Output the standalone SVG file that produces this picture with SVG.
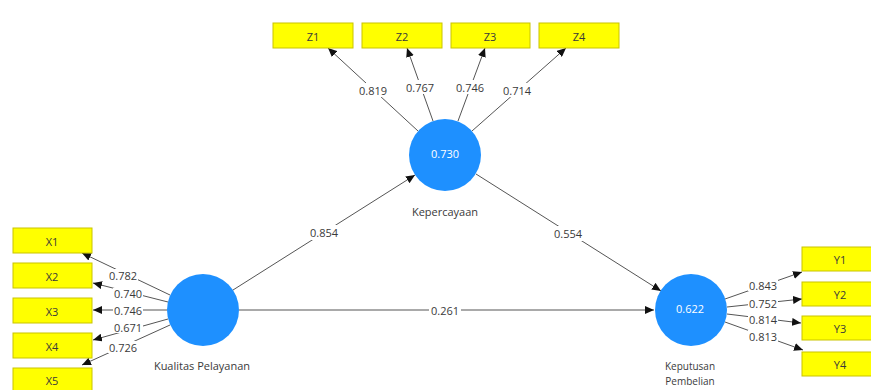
<svg xmlns="http://www.w3.org/2000/svg" width="871" height="390" viewBox="0 0 871 390">
<style>
.bg{fill:#ffffff}
.ind rect{fill:#ffff00;stroke:#c9c400;stroke-width:1}
.t{font-family:"Open Sans","Noto Sans",sans-serif;font-size:11px;fill:#3a3a3a;text-anchor:middle;dominant-baseline:central}
.s{font-size:10px}
.lat circle{fill:#1e90ff}
.wt{font-family:"Open Sans","Noto Sans",sans-serif;font-size:11px;fill:#ffffff;text-anchor:middle;dominant-baseline:central}
.ln{stroke:#555555;stroke-width:1;fill:none;marker-end:url(#ah)}
.lb{fill:#ffffff}
</style>
<defs>
<marker id="ah" markerUnits="userSpaceOnUse" markerWidth="10" markerHeight="8" refX="9" refY="4" orient="auto">
<path d="M0,0 L9,4 L0,8 Z" fill="#111111"/>
</marker>
</defs>
<rect class="bg" x="0" y="0" width="871" height="390"/>

<g id="connectors">
<line class="ln" x1="418" y1="131" x2="328" y2="48"/>
<line class="ln" x1="433" y1="121" x2="407" y2="48"/>
<line class="ln" x1="458" y1="121" x2="485" y2="48"/>
<line class="ln" x1="472" y1="131" x2="566" y2="48"/>
<line class="ln" x1="170" y1="295" x2="82" y2="253"/>
<line class="ln" x1="168" y1="302" x2="93" y2="283"/>
<line class="ln" x1="167" y1="310" x2="93" y2="310"/>
<line class="ln" x1="168" y1="319" x2="93" y2="340"/>
<line class="ln" x1="170" y1="325" x2="82" y2="365"/>
<line class="ln" x1="725" y1="299" x2="802" y2="272"/>
<line class="ln" x1="727" y1="307" x2="802" y2="299"/>
<line class="ln" x1="727" y1="314" x2="801" y2="323"/>
<line class="ln" x1="725" y1="322" x2="803" y2="350"/>
<line class="ln" x1="233" y1="290" x2="415" y2="175"/>
<line class="ln" x1="476" y1="174" x2="661" y2="291"/>
<line class="ln" x1="239" y1="310" x2="654" y2="310"/>
<g id="path-labels">
<rect class="lb" x="358" y="83" width="30" height="14"/><text class="t" x="373" y="90">0.819</text>
<rect class="lb" x="405" y="80" width="30" height="14"/><text class="t" x="420" y="87">0.767</text>
<rect class="lb" x="455" y="80" width="30" height="14"/><text class="t" x="470" y="87">0.746</text>
<rect class="lb" x="502" y="83" width="30" height="14"/><text class="t" x="517" y="90">0.714</text>
<rect class="lb" x="108" y="269" width="30" height="12"/><text class="t" x="123" y="275">0.782</text>
<rect class="lb" x="113" y="288" width="30" height="11"/><text class="t" x="128" y="293">0.740</text>
<rect class="lb" x="113" y="304" width="30" height="12"/><text class="t" x="128" y="310">0.746</text>
<rect class="lb" x="113" y="321" width="30" height="12"/><text class="t" x="128" y="327">0.671</text>
<rect class="lb" x="108" y="341" width="30" height="12"/><text class="t" x="123" y="347">0.726</text>
<rect class="lb" x="748" y="279" width="30" height="12"/><text class="t" x="763" y="285">0.843</text>
<rect class="lb" x="748" y="297" width="30" height="12"/><text class="t" x="763" y="303">0.752</text>
<rect class="lb" x="748" y="313" width="30" height="12"/><text class="t" x="763" y="319">0.814</text>
<rect class="lb" x="748" y="330" width="30" height="12"/><text class="t" x="763" y="336">0.813</text>
<rect class="lb" x="308" y="225" width="32" height="15"/><text class="t" x="324" y="232">0.854</text>
<rect class="lb" x="552" y="226" width="32" height="15"/><text class="t" x="568" y="233">0.554</text>
<rect class="lb" x="429" y="303" width="32" height="14"/><text class="t" x="445" y="310">0.261</text>
</g>
</g>

<g id="Z1" class="ind"><rect x="273" y="23" width="80" height="25"/><text class="t" x="313" y="36">Z1</text></g>
<g id="Z2" class="ind"><rect x="362" y="23" width="80" height="25"/><text class="t" x="402" y="36">Z2</text></g>
<g id="Z3" class="ind"><rect x="451" y="23" width="79" height="25"/><text class="t" x="490" y="36">Z3</text></g>
<g id="Z4" class="ind"><rect x="539" y="23" width="80" height="25"/><text class="t" x="579" y="36">Z4</text></g>

<g id="X1" class="ind"><rect x="13" y="228" width="79" height="25"/><text class="t" x="52" y="241">X1</text></g>
<g id="X2" class="ind"><rect x="13" y="263" width="79" height="25"/><text class="t" x="52" y="276">X2</text></g>
<g id="X3" class="ind"><rect x="13" y="298" width="79" height="25"/><text class="t" x="52" y="311">X3</text></g>
<g id="X4" class="ind"><rect x="13" y="333" width="79" height="25"/><text class="t" x="52" y="346">X4</text></g>
<g id="X5" class="ind"><rect x="13" y="368" width="79" height="25"/><text class="t" x="52" y="380">X5</text></g>

<g id="Y1" class="ind"><rect x="802" y="247" width="78" height="24"/><text class="t" x="840" y="259">Y1</text></g>
<g id="Y2" class="ind"><rect x="802" y="282" width="78" height="24"/><text class="t" x="840" y="294">Y2</text></g>
<g id="Y3" class="ind"><rect x="802" y="316" width="78" height="24"/><text class="t" x="840" y="328">Y3</text></g>
<g id="Y4" class="ind"><rect x="802" y="352" width="78" height="24"/><text class="t" x="840" y="364">Y4</text></g>

<g id="Kepercayaan" class="lat"><circle cx="445" cy="155" r="36"/><text class="wt" x="445" y="153">0.730</text><text class="t" x="445" y="211">Kepercayaan</text></g>
<g id="KualitasPelayanan" class="lat"><circle cx="203" cy="310" r="36"/><text class="t" x="202" y="365">Kualitas Pelayanan</text></g>
<g id="KeputusanPembelian" class="lat"><circle cx="691" cy="310" r="36"/><text class="wt" x="690" y="308">0.622</text><text class="t s" x="690" y="366">Keputusan</text><text class="t s" x="690" y="381">Pembelian</text></g>
</svg>
